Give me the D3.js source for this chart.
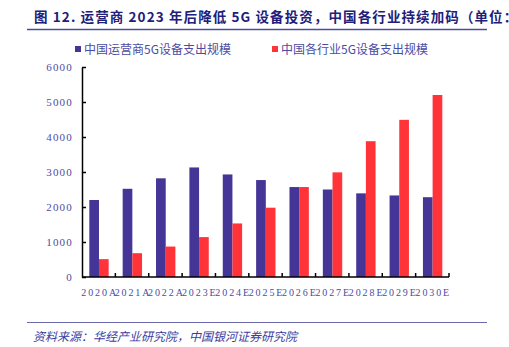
<!DOCTYPE html>
<html><head><meta charset="utf-8">
<script src="https://cdn.jsdelivr.net/npm/d3@7/dist/d3.min.js"></script>
<style>body{margin:0;background:#fff;}svg{display:block;}</style>
</head><body>
<script>
const categories = ["2020A","2021A","2022A","2023E","2024E","2025E","2026E","2027E","2028E","2029E","2030E"];
const operatorSpend = [2200,2520,2820,3130,2930,2770,2570,2500,2390,2330,2280];
const industrySpend = [510,680,870,1140,1530,1980,2570,2990,3880,4490,5200];
const seriesNames = ["中国运营商5G设备支出规模","中国各行业5G设备支出规模"];
const yTicks = [0,1000,2000,3000,4000,5000,6000];
const titleText = "图 12. 运营商 2023 年后降低 5G 设备投资，中国各行业持续加码（单位：亿元）";
const sourceText = "资料来源：华经产业研究院，中国银河证券研究院";

const W = 509, H = 347;
const colors = ["#443596","#ff3338"];
const textColor = "#4b4ba3";
const svg = d3.select("body").append("svg").attr("width",W).attr("height",H);

// title
svg.append("text").attr("x",34).attr("y",22)
  .attr("font-family","'Noto Sans CJK SC', sans-serif").attr("font-weight","bold")
  .attr("font-size",13.5).attr("fill","#20207a").attr("letter-spacing",1.1)
  .text(titleText);
svg.append("line").attr("x1",27).attr("x2",487).attr("y1",29.5).attr("y2",29.5)
  .attr("stroke","#4b4b9f").attr("stroke-width",1.5);

const x0 = d3.scaleBand().domain(categories).range([82,449]).paddingInner(0).paddingOuter(0);
const x1 = d3.scaleBand().domain([0,1]).range([7.3, x0.bandwidth()-6.7]);
const y = d3.scaleLinear().domain([0,6000]).range([277,67]);

// bars
const g = svg.append("g");
categories.forEach((c,i)=>{
  [operatorSpend[i], industrySpend[i]].forEach((v,s)=>{
    g.append("rect").attr("x",x0(c)+x1(s)).attr("y",y(v))
      .attr("width",x1.bandwidth()).attr("height",y(0)-y(v))
      .attr("fill",colors[s]);
  });
});

// y axis
const yAxis = d3.axisLeft(y).tickValues(yTicks).tickFormat(d3.format("d"))
  .tickSize(-4).tickPadding(9).tickSizeOuter(0);
const ya = svg.append("g").attr("transform","translate(82,0)").call(yAxis);
ya.select(".domain").attr("stroke","#000").attr("stroke-width",1.5);
ya.selectAll(".tick line").attr("stroke","#000").attr("stroke-width",1.5);
ya.selectAll("text").attr("font-family","'Liberation Serif', serif").attr("font-size",11)
  .attr("fill",textColor).attr("letter-spacing",1.2);

// x axis
const xa = svg.append("g").attr("transform","translate(0,277)");
xa.append("line").attr("x1",82).attr("x2",449).attr("y1",0).attr("y2",0).attr("stroke","#000").attr("stroke-width",1.5);
const bounds = categories.map(c=>x0(c)+x0.bandwidth());
xa.selectAll("line.tk").data(bounds).enter().append("line").attr("class","tk")
  .attr("x1",d=>d).attr("x2",d=>d).attr("y1",0).attr("y2",-4).attr("stroke","#000").attr("stroke-width",1.5);
xa.selectAll("text").data(categories).enter().append("text")
  .attr("x",d=>x0(d)+x0.bandwidth()/2+1).attr("y",19)
  .attr("text-anchor","middle").attr("font-family","'Liberation Serif', serif")
  .attr("font-size",10).attr("letter-spacing",1.9).attr("fill",textColor).text(d=>d);

// legend
const legX = [75, 272];
seriesNames.forEach((n,i)=>{
  svg.append("rect").attr("x",legX[i]).attr("y",46).attr("width",6).attr("height",6).attr("fill",colors[i]);
  svg.append("text").attr("x",legX[i]+9).attr("y",53.5)
    .attr("font-family","'Noto Sans CJK SC', sans-serif").attr("font-size",12)
    .attr("fill",textColor).text(n);
});

// source
svg.append("line").attr("x1",27).attr("x2",487).attr("y1",322.5).attr("y2",322.5)
  .attr("stroke","#6a6aae").attr("stroke-width",1.2);
svg.append("text").attr("x",33).attr("y",341)
  .attr("font-family","'Noto Sans CJK SC', sans-serif").attr("font-size",12)
  .attr("font-style","italic").attr("fill","#3c3ca0").text(sourceText);
</script>
</body></html>
